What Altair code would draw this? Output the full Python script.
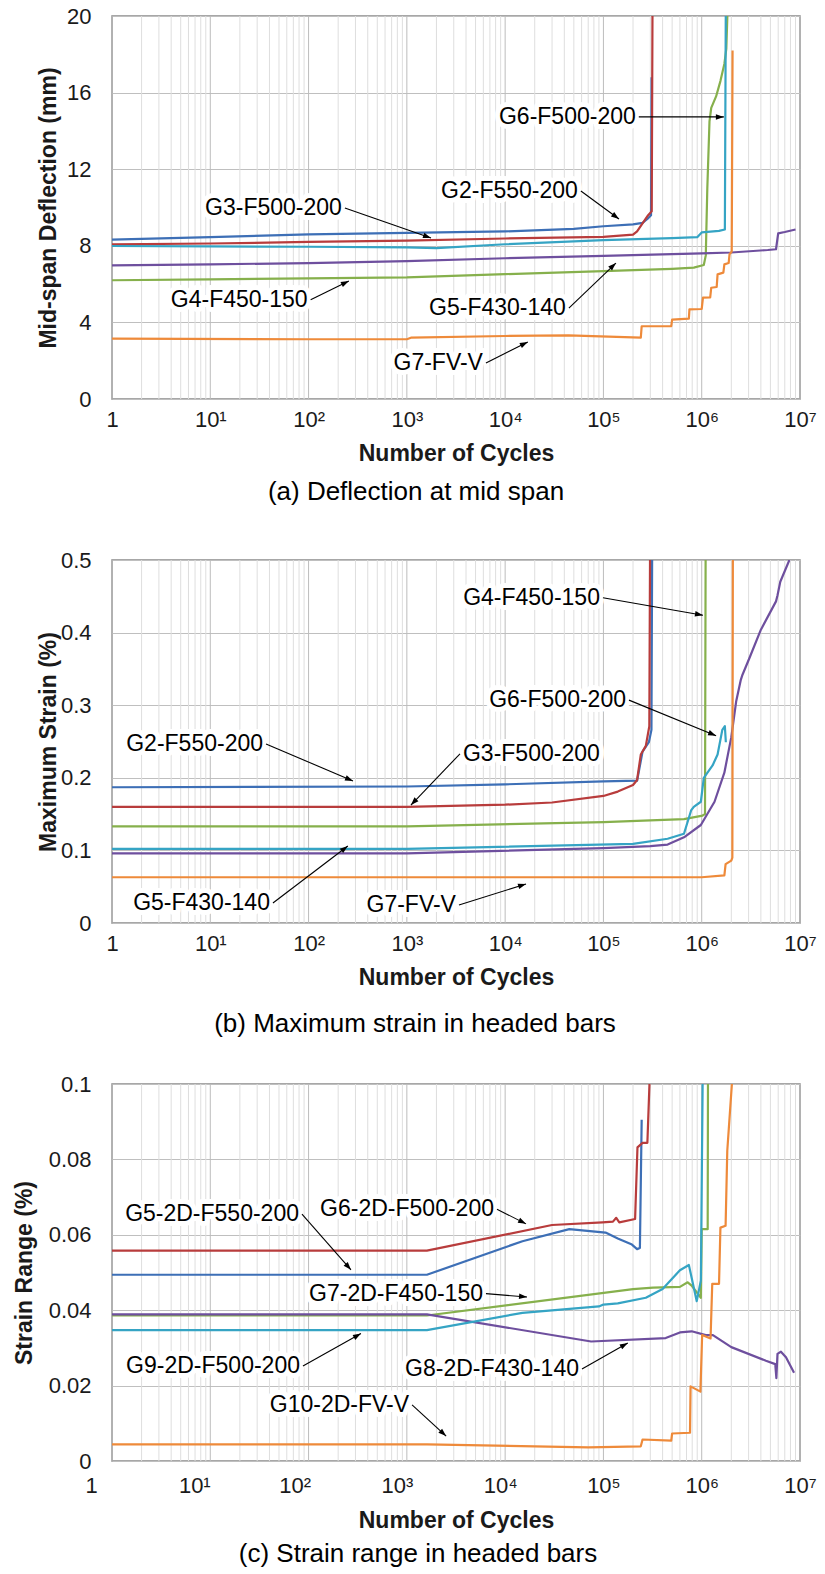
import math
import altair as alt
import pandas as pd

FONT = "Liberation Sans"
W = 688
HA, HB, HC = 383, 363, 377

C_BLUE = "#3d6fb6"
C_RED = "#b83c3c"
C_GREEN = "#86b04c"
C_PURPLE = "#6e4f9e"
C_CYAN = "#35a4c4"
C_ORANGE = "#ee8a3a"

# ---------------- Panel (a): mid-span deflection (mm) ----------------
A_G2_N = [1, 10, 100, 1000, 1e4, 5e4, 1e5, 2e5, 2.5e5, 2.8e5, 3.05e5, 3.09e5]
A_G2_V = [8.32, 8.45, 8.6, 8.67, 8.75, 8.88, 9.02, 9.12, 9.2, 9.4, 9.6, 16.8]
A_G3_N = [1, 10, 100, 1000, 1e4, 1e5, 2e5, 2.2e5, 2.6e5, 2.85e5, 3.1e5, 3.16e5]
A_G3_V = [8.07, 8.12, 8.2, 8.27, 8.38, 8.47, 8.58, 8.75, 9.3, 9.6, 9.8, 21]
A_G4_N = [1, 10, 100, 1000, 1e4, 1e5, 5e5, 8.3e5, 1.05e6, 1.1e6, 1.14e6, 1.2e6, 1.25e6, 1.4e6, 1.55e6, 1.7e6, 1.78e6, 1.85e6]
A_G4_V = [6.2, 6.25, 6.3, 6.35, 6.52, 6.68, 6.8, 6.86, 7.0, 7.5, 11.0, 14.5, 15.2, 15.8, 16.6, 17.5, 18.3, 21]
A_G5_N = [1, 10, 100, 1000, 1e4, 1e5, 1e6, 2e6, 4.7e6, 5.7e6, 6.0e6, 7e6, 9e6]
A_G5_V = [6.98, 7.03, 7.1, 7.2, 7.35, 7.47, 7.6, 7.65, 7.78, 7.82, 8.65, 8.72, 8.85]
A_G6_N = [1, 10, 100, 1000, 2000, 1e4, 1e5, 5e5, 9e5, 1.0e6, 1.5e6, 1.72e6, 1.76e6]
A_G6_V = [7.99, 7.97, 7.95, 7.92, 7.88, 8.08, 8.3, 8.4, 8.45, 8.7, 8.78, 8.85, 21]
A_G7_N = [1, 100, 1000, 1100, 1e4, 4.4e4, 2.4e5, 2.45e5, 4.9e5, 5.0e5, 7.4e5, 7.5e5, 1.0e6, 1.03e6,
          1.22e6, 1.25e6, 1.42e6, 1.45e6, 1.66e6, 1.7e6, 1.88e6, 1.92e6, 2.02e6, 2.06e6]
A_G7_V = [3.15, 3.12, 3.12, 3.2, 3.29, 3.32, 3.2, 3.8, 3.81, 4.15, 4.2, 4.68, 4.7, 5.29,
          5.3, 5.81, 5.85, 6.51, 6.6, 7.03, 7.1, 7.56, 7.7, 18.2]

# ---------------- Panel (b): maximum strain (%) ----------------
B_G2_N = [1, 1000, 1e4, 1e5, 2.2e5, 2.5e5, 2.9e5, 3.08e5, 3.15e5]
B_G2_V = [0.187, 0.188, 0.191, 0.195, 0.196, 0.236, 0.249, 0.266, 0.6]
B_G3_N = [1, 1000, 1e4, 3e4, 1e5, 1.4e5, 2.0e5, 2.2e5, 2.4e5, 2.7e5, 2.93e5, 3.0e5]
B_G3_V = [0.16, 0.16, 0.163, 0.166, 0.175, 0.181, 0.19, 0.197, 0.232, 0.244, 0.271, 0.6]
B_G4_N = [1, 1000, 1e5, 6.6e5, 1.02e6, 1.08e6, 1.1e6]
B_G4_V = [0.133, 0.133, 0.139, 0.143, 0.148, 0.15, 0.6]
B_G5_N = [1, 1000, 1e5, 3.0e5, 4.5e5, 6.6e5, 9.8e5, 1.35e6, 1.7e6, 2.0e6, 2.24e6, 2.5e6, 2.6e6,
          3.06e6, 4.0e6, 5.7e6, 5.9e6, 6.3e6, 7.8e6]
B_G5_V = [0.096, 0.096, 0.103, 0.106, 0.108, 0.118, 0.135, 0.167, 0.207, 0.256, 0.305, 0.335, 0.342,
          0.365, 0.404, 0.443, 0.451, 0.47, 0.5]
B_G6_N = [1, 1000, 2e5, 4.5e5, 6.6e5, 7.8e5, 8.3e5, 9.8e5, 1.05e6, 1.29e6, 1.45e6, 1.62e6, 1.72e6, 1.76e6]
B_G6_V = [0.102, 0.102, 0.109, 0.116, 0.123, 0.155, 0.16, 0.167, 0.2, 0.217, 0.232, 0.266, 0.271, 0.249]
B_G7_N = [1, 1e5, 1.0e6, 1.7e6, 1.75e6, 2.0e6, 2.05e6, 2.08e6]
B_G7_V = [0.063, 0.063, 0.063, 0.0655, 0.081, 0.086, 0.09, 0.6]

# ---------------- Panel (c): strain range (%) ----------------
C_G5_N = [1, 1600, 1.5e4, 4.5e4, 1.05e5, 1.4e5, 1.95e5, 2.2e5, 2.35e5, 2.45e5]
C_G5_V = [0.0494, 0.0494, 0.0583, 0.0615, 0.0606, 0.059, 0.0574, 0.0562, 0.0565, 0.0905]
C_G6_N = [1, 1600, 3.0e4, 9.8e4, 1.25e5, 1.35e5, 1.45e5, 2.1e5, 2.22e5, 2.5e5, 2.8e5, 2.95e5]
C_G6_V = [0.0558, 0.0558, 0.0626, 0.0633, 0.0635, 0.0645, 0.0633, 0.0642, 0.0832, 0.0844, 0.0844, 0.101]
C_G7_N = [1, 1600, 2.0e5, 3.2e5, 6.0e5, 7.2e5, 7.9e5, 9.8e5, 1.0e6, 1.15e6, 1.16e6]
C_G7_V = [0.0386, 0.0386, 0.0456, 0.046, 0.0462, 0.0474, 0.0465, 0.0433, 0.0615, 0.0615, 0.11]
C_G8_N = [1, 1600, 7.5e4, 4.3e5, 6.0e5, 7.9e5, 1.1e6, 1.3e6, 2.0e6, 4.5e6, 5.6e6, 5.75e6, 5.9e6, 6.4e6, 7.2e6, 8.7e6]
C_G8_V = [0.0389, 0.0389, 0.0317, 0.0326, 0.0341, 0.0344, 0.0334, 0.0334, 0.0302, 0.0266, 0.0257, 0.022,
          0.0284, 0.029, 0.0275, 0.0234]
C_G9_N = [1, 1600, 1.5e4, 9e4, 1.0e5, 1.4e5, 2.7e5, 4.0e5, 6.0e5, 7.4e5, 8.9e5, 9.8e5, 1.03e6]
C_G9_V = [0.0347, 0.0347, 0.0393, 0.041, 0.0415, 0.0418, 0.0433, 0.0456, 0.0506, 0.052, 0.0424, 0.0479, 0.11]
C_G10_N = [1, 1600, 7e4, 2.4e5, 2.5e5, 4.9e5, 5.0e5, 7.6e5, 7.7e5, 9.7e5, 1.01e6, 1.23e6, 1.28e6, 1.5e6,
           1.55e6, 1.75e6, 1.82e6, 2.04e6]
C_G10_V = [0.0044, 0.0044, 0.0036, 0.0039, 0.0057, 0.0054, 0.0073, 0.0075, 0.0198, 0.0184, 0.0334, 0.0325,
           0.047, 0.047, 0.0619, 0.0624, 0.0823, 0.101]

SERIES_A = [("G2-F550-200", A_G2_N, A_G2_V, C_BLUE), ("G3-F500-200", A_G3_N, A_G3_V, C_RED),
            ("G4-F450-150", A_G4_N, A_G4_V, C_GREEN), ("G5-F430-140", A_G5_N, A_G5_V, C_PURPLE),
            ("G6-F500-200", A_G6_N, A_G6_V, C_CYAN), ("G7-FV-V", A_G7_N, A_G7_V, C_ORANGE)]
SERIES_B = [("G2-F550-200", B_G2_N, B_G2_V, C_BLUE), ("G3-F500-200", B_G3_N, B_G3_V, C_RED),
            ("G4-F450-150", B_G4_N, B_G4_V, C_GREEN), ("G5-F430-140", B_G5_N, B_G5_V, C_PURPLE),
            ("G6-F500-200", B_G6_N, B_G6_V, C_CYAN), ("G7-FV-V", B_G7_N, B_G7_V, C_ORANGE)]
SERIES_C = [("G5-2D-F550-200", C_G5_N, C_G5_V, C_BLUE), ("G6-2D-F500-200", C_G6_N, C_G6_V, C_RED),
            ("G7-2D-F450-150", C_G7_N, C_G7_V, C_GREEN), ("G8-2D-F430-140", C_G8_N, C_G8_V, C_PURPLE),
            ("G9-2D-F500-200", C_G9_N, C_G9_V, C_CYAN), ("G10-2D-FV-V", C_G10_N, C_G10_V, C_ORANGE)]

# annotations: label, text/arrow-start (N, v), arrow-end (N, v), text alignment
ANN_A = [("G3-F500-200", 234, 9.97, 1760, 8.41, "right"),
         ("G4-F450-150", 105, 5.18, 257, 6.16, "right"),
         ("G2-F550-200", 59000, 10.86, 144000, 9.40, "right"),
         ("G6-F500-200", 229000, 14.73, 1.68e6, 14.73, "right"),
         ("G5-F430-140", 44500, 4.75, 134000, 7.10, "right"),
         ("G7-FV-V", 6380, 1.88, 17000, 2.98, "right")]
ANN_B = [("G2-F550-200", 36.9, 0.2466, 283, 0.1956, "right"),
         ("G4-F450-150", 98900, 0.448, 1.03e6, 0.424, "right"),
         ("G6-F500-200", 182000, 0.307, 1.40e6, 0.258, "right"),
         ("G3-F500-200", 3470, 0.233, 1100, 0.1625, "left"),
         ("G5-F430-140", 43.4, 0.0275, 251, 0.106, "right"),
         ("G7-FV-V", 3390, 0.0248, 16300, 0.0537, "right")]
ANN_C = [("G5-2D-F550-200", 85.7, 0.0655, 270, 0.0507, "right"),
         ("G6-2D-F500-200", 8260, 0.0668, 16300, 0.0629, "right"),
         ("G7-2D-F450-150", 6380, 0.0444, 16700, 0.0435, "right"),
         ("G9-2D-F500-200", 87.7, 0.0252, 341, 0.0338, "right"),
         ("G8-2D-F430-140", 60500, 0.0244, 177000, 0.0313, "right"),
         ("G10-2D-FV-V", 1130, 0.0149, 2510, 0.0066, "right")]

X_TICKS = [k * 10 ** e for e in range(7) for k in range(1, 10)] + [10 ** 7]
DECADE_TEST = "abs(log(datum.value)/LN10 - round(log(datum.value)/LN10)) < 0.001"
X_LABEL_EXPR = ("datum.value == 1 ? '1' : (" + DECADE_TEST +
                " ? '10' + ['', '\u00b9', '\u00b2', '\u00b3', '\u2074', '\u2075', '\u2076', '\u2077']"
                "[round(log(datum.value)/LN10)] : '')")
ARROW_PATH = "M0,0L-0.55,1.6L0.55,1.6Z"

# panel (c) tick labels sit slightly left of their gridlines in the original
C_LABEL_SHIFT = {"condition": [
    {"test": "datum.value == 1", "value": -21},
    {"test": "datum.value == 10", "value": -16},
    {"test": "datum.value == 100", "value": -14},
    {"test": "datum.value == 1000", "value": -10},
    {"test": "datum.value == 10000", "value": -5},
], "value": 0}

GRID_DF = pd.DataFrame({
    "N": X_TICKS,
    "gcol": ["#bcbcbc" if abs(math.log10(t) - round(math.log10(t))) < 1e-9 else "#dedede" for t in X_TICKS],
})


def lines_df(series):
    rows = []
    for name, ns, vs, _ in series:
        for i, (n, v) in enumerate(zip(ns, vs)):
            rows.append({"series": name, "N": n, "v": v, "order": i})
    return pd.DataFrame(rows)


def ann_df(ann, ymax, h):
    rows = []
    for label, n1, v1, n2, v2, align in ann:
        dx = (math.log10(n2) - math.log10(n1)) / 7 * W
        dy = -(v2 - v1) / ymax * h
        ang = math.degrees(math.atan2(dx, -dy)) % 360
        rows.append({"label": label, "N": n1, "v": v1, "N2": n2, "v2": v2,
                     "align": align, "angle": ang})
    return pd.DataFrame(rows)


def panel(series, ann, ymax, yvals, ylabel_expr, ytitle, h, caption, title_x, cap_dx,
          xlabel_off=None, xlabel_pad=10, xtitle_pad=12, cap_off=14):
    xscale = alt.Scale(type="log", domain=[1, 1e7], nice=False)
    yscale = alt.Scale(domain=[0, ymax], nice=False, zero=True)
    names = [s[0] for s in series]
    colors = [s[3] for s in series]
    xkw = dict(values=X_TICKS, labelExpr=X_LABEL_EXPR, labelOverlap=False, labelFlush=False,
               title="Number of Cycles", grid=False,
               labelFontSize=22, labelPadding=xlabel_pad,
               titleFontSize=23, titleFontWeight="bold", titlePadding=xtitle_pad)
    if xlabel_off is not None:
        xkw["labelOffset"] = xlabel_off
    xaxis = alt.Axis(**xkw)
    yaxis = alt.Axis(values=yvals, labelExpr=ylabel_expr, grid=True, gridColor="#bfbfbf", gridWidth=1,
                     labelFontSize=22, labelPadding=21, title=ytitle, titleFontSize=23,
                     titleFontWeight="bold", titleX=title_x, titleBaseline="middle")
    X = lambda f: alt.X(f, scale=xscale, axis=xaxis)
    Y = lambda f: alt.Y(f, scale=yscale, axis=yaxis)

    df = lines_df(series)
    adf = ann_df(ann, ymax, h)

    grid = alt.Chart(GRID_DF).mark_rule(strokeWidth=1).encode(
        x=X("N:Q"), color=alt.Color("gcol:N", scale=None))
    lines = alt.Chart(df).mark_line(clip=True, strokeWidth=2.2, strokeJoin="round").encode(
        x=X("N:Q"), y=Y("v:Q"),
        color=alt.Color("series:N", scale=alt.Scale(domain=names, range=colors), legend=None),
        order="order:Q",
    )
    halo = []
    texts = []
    for align, dx in (("right", -3), ("left", 3)):
        sub = adf[adf["align"] == align]
        if len(sub) == 0:
            continue
        halo.append(alt.Chart(sub).mark_text(
            align=align, baseline="middle", dx=dx, font=FONT, fontSize=23, color="white",
            stroke="white", strokeWidth=10, strokeJoin="round").encode(
            x=X("N:Q"), y=Y("v:Q"), text="label:N"))
        texts.append(alt.Chart(sub).mark_text(
            align=align, baseline="middle", dx=dx, font=FONT, fontSize=23, color="black").encode(
            x=X("N:Q"), y=Y("v:Q"), text="label:N"))
    rules = alt.Chart(adf).mark_rule(color="black", strokeWidth=1.1).encode(
        x=X("N:Q"), y=Y("v:Q"), x2="N2:Q", y2="v2:Q")
    heads = alt.Chart(adf).mark_point(shape=ARROW_PATH, filled=True, size=100, color="black",
                                      opacity=1, strokeWidth=0).encode(
        x=X("N2:Q"), y=Y("v2:Q"), angle=alt.Angle("angle:Q", scale=None))
    return alt.layer(grid, *halo, lines, rules, heads, *texts).resolve_scale(color="independent").properties(
        width=W, height=h,
        title=alt.TitleParams(text=caption, orient="bottom", anchor="middle", frame="group",
                              dx=cap_dx, offset=cap_off, fontSize=26, fontWeight="normal",
                              font=FONT, color="black"))


pa = panel(SERIES_A, ANN_A, 20, [0, 4, 8, 12, 16, 20], "format(datum.value, 'd')",
           "Mid-span Deflection (mm)", HA, "(a) Deflection at mid span", -64, -40)
pb = panel(SERIES_B, ANN_B, 0.5, [0, 0.1, 0.2, 0.3, 0.4, 0.5],
           "datum.value == 0 ? '0' : format(datum.value, '.1f')",
           "Maximum Strain (%)", HB, "(b) Maximum strain in headed bars", -64, -41, cap_off=22)
pc = panel(SERIES_C, ANN_C, 0.1, [0, 0.02, 0.04, 0.06, 0.08, 0.1],
           "datum.value == 0 ? '0' : (datum.value == 0.1 ? '0.1' : format(datum.value, '.2f'))",
           "Strain Range (%)", HC, "(c) Strain range in headed bars", -88, -38,
           xlabel_off=C_LABEL_SHIFT, xlabel_pad=14, xtitle_pad=13, cap_off=9)

chart = alt.vconcat(pa, pb, pc, spacing=161, bounds="flush").properties(
    padding={"left": 12, "top": 4, "right": 0, "bottom": 0}, background="white"
).configure_view(stroke="#8a8a8a", strokeWidth=1.5).configure_axis(
    domain=False, ticks=False, labelFont=FONT, titleFont=FONT, labelColor="#1a1a1a", titleColor="#1a1a1a"
)

chart.save("out.html", embed_options={"renderer": "svg", "actions": False})
